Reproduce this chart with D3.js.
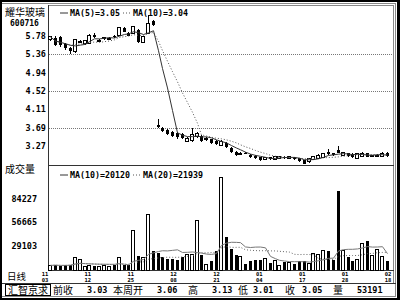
<!DOCTYPE html>
<html>
<head>
<meta charset="utf-8">
<script src="https://cdn.jsdelivr.net/npm/d3@7"></script>
<style>
  body { margin: 0; background: #fff; }
  svg { display: block; }
</style>
</head>
<body>
<svg width="400" height="300"></svg>
<script>
// stock + daily candles
const stockName = '耀华玻璃';
const stockCode = '600716';

const opens = [5.69, 5.74, 5.76, 5.60, 5.51, 5.43, 5.65, 5.60, 5.62, 5.80, 5.67, 5.73, 5.72, 5.78, 5.79, 5.96, 5.85, 5.84, 5.92, 5.64, 5.84, 6.12,
  3.75, 3.69, 3.63, 3.60, 3.56, 3.54, 3.37, 3.39, 3.48, 3.50, 3.41, 3.42, 3.39, 3.29, 3.33, 3.22, 3.14, 3.10, 3.11, 3.06, 3.04, 3.01, 2.96, 3.01,
  2.96, 2.99, 3.03, 2.99, 3.01, 2.99, 2.95, 2.91, 2.96, 2.99, 3.01, 3.14, 3.10, 3.18, 3.06, 3.10, 3.09, 2.99, 3.04, 3.10, 3.02, 3.03, 3.04, 3.10];
const highs = [5.79, 5.78, 5.78, 5.62, 5.53, 5.70, 5.69, 5.69, 5.82, 5.84, 5.71, 5.76, 5.76, 5.80, 5.99, 5.99, 5.88, 6.01, 5.94, 5.78, 6.26, 6.14,
  3.88, 3.71, 3.65, 3.62, 3.58, 3.56, 3.47, 3.67, 3.60, 3.52, 3.47, 3.44, 3.41, 3.40, 3.35, 3.24, 3.16, 3.13, 3.13, 3.08, 3.06, 3.03, 3.02, 3.03,
  3.04, 3.05, 3.05, 3.04, 3.03, 3.00, 2.96, 3.00, 3.05, 3.08, 3.11, 3.20, 3.12, 3.27, 3.14, 3.12, 3.10, 3.12, 3.13, 3.12, 3.07, 3.08, 3.13, 3.13];
const lows = [5.67, 5.55, 5.53, 5.47, 5.37, 5.39, 5.62, 5.58, 5.60, 5.74, 5.64, 5.70, 5.70, 5.74, 5.77, 5.86, 5.77, 5.82, 5.63, 5.62, 5.82, 6.00,
  3.69, 3.60, 3.52, 3.48, 3.42, 3.43, 3.35, 3.37, 3.46, 3.37, 3.39, 3.32, 3.29, 3.27, 3.22, 3.12, 3.04, 3.07, 3.08, 3.00, 2.97, 2.93, 2.94, 2.95,
  2.95, 2.97, 2.98, 2.97, 2.95, 2.91, 2.85, 2.89, 2.94, 2.97, 3.00, 3.07, 3.04, 3.10, 3.04, 3.03, 2.99, 2.97, 3.02, 3.01, 3.01, 3.01, 3.03, 3.01];
const closes = [5.76, 5.57, 5.58, 5.50, 5.43, 5.69, 5.66, 5.67, 5.80, 5.76, 5.68, 5.74, 5.73, 5.76, 5.97, 5.88, 5.79, 5.99, 5.65, 5.76, 6.07, 6.03,
  3.71, 3.62, 3.54, 3.50, 3.48, 3.45, 3.45, 3.54, 3.56, 3.39, 3.45, 3.34, 3.31, 3.37, 3.24, 3.14, 3.06, 3.11, 3.10, 3.02, 2.99, 2.95, 3.00, 2.97,
  3.02, 3.04, 3.00, 3.02, 2.97, 2.93, 2.87, 2.99, 3.04, 3.06, 3.09, 3.09, 3.06, 3.12, 3.12, 3.05, 3.01, 3.10, 3.11, 3.03, 3.05, 3.06, 3.11, 3.05];
const volumes = [5500, 6000, 5000, 5500, 6500, 14500, 13000, 4500, 5500, 5000, 4000, 5000, 4500, 5500, 15000, 6500, 5500, 46700, 17000, 15000, 66000, 23000,
  19700, 15000, 13000, 13000, 12000, 15000, 19000, 19000, 59000, 17700, 7000, 11000, 23000, 110600, 39000, 25000, 17700, 16000, 7600, 10900, 12000, 11700, 13600, 8400,
  11700, 5700, 9600, 8800, 6900, 10900, 10900, 7600, 20000, 18000, 23000, 23000, 12000, 94000, 23000, 15000, 11000, 12000, 31000, 35000, 17000, 24000, 15700, 11000];

// axis ticks and labels
const priceTicks = [5.78, 5.36, 4.94, 4.52, 4.11, 3.69, 3.27];
const priceGrid = [5.36, 4.52, 3.69];
const volumeTicks = [84227, 56665, 29103];
const dateLabels = [['11', '03'], ['11', '12'], ['11', '25'], ['12', '08'], ['12', '21'], ['01', '04'], ['01', '17'], ['01', '28'], ['02', '18']];

// legend texts
const priceLegend = ['MA(5)=3.05', 'MA(10)=3.04'];
const volumeLegend = ['MA(10)=20120', 'MA(20)=21939'];

// bottom status bar
const statusLabels = ['前收', '本周开', '高', '低', '收', '量'];
const statusValues = ['3.03', '3.06', '3.13', '3.01', '3.05', '53191'];

const mono = "'DejaVu Sans Mono', monospace";
const cjk = "'Noto Sans CJK SC', sans-serif";

const svg = d3.select('svg');

// scales
const x = d3.scaleBand().domain(d3.range(closes.length)).range([48, 389]);
const cx = i => Math.round(x(i) + x.bandwidth() / 2);
const y = d3.scaleLinear().domain([3.27, 5.78]).range([146, 36]);
const yv = d3.scaleLinear().domain([0, 84227]).range([270, 199.3]);
const xd = d3.scalePoint().domain(dateLabels.map(d => d.join('/'))).range([45, 388]);

function movingAvg(vals, n) {
  return vals.map((v, i) => d3.mean(vals.slice(Math.max(0, i - n + 1), i + 1)));
}

// frame
svg.append('rect').attr('x', 1).attr('y', 1).attr('width', 398).attr('height', 298)
  .attr('fill', 'none').attr('stroke', '#000').attr('stroke-width', 2);
svg.append('rect').attr('x', 397).attr('y', 0).attr('width', 3).attr('height', 300).attr('fill', '#000');
const frame = svg.append('g').attr('stroke', '#888').attr('shape-rendering', 'crispEdges');
frame.append('line').attr('x1', 2).attr('x2', 396).attr('y1', 3.5).attr('y2', 3.5);
frame.append('line').attr('x1', 48).attr('x2', 394).attr('y1', 5.5).attr('y2', 5.5);
frame.append('line').attr('x1', 393.5).attr('x2', 393.5).attr('y1', 5).attr('y2', 283);
frame.append('line').attr('x1', 395.5).attr('x2', 395.5).attr('y1', 3).attr('y2', 297);
frame.append('line').attr('x1', 2).attr('x2', 396).attr('y1', 296.5).attr('y2', 296.5);

const axes = svg.append('g').attr('stroke', '#333').attr('shape-rendering', 'crispEdges');
axes.append('line').attr('x1', 48.5).attr('x2', 48.5).attr('y1', 5).attr('y2', 271);
axes.append('line').attr('x1', 48).attr('x2', 394).attr('y1', 165.5).attr('y2', 165.5);
axes.append('line').attr('x1', 48).attr('x2', 394).attr('y1', 270.5).attr('y2', 270.5);
axes.append('line').attr('x1', 2).attr('x2', 396).attr('y1', 283.5).attr('y2', 283.5);

// dotted price grid
svg.append('g').selectAll('line').data(priceGrid).enter().append('line')
  .attr('x1', 49).attr('x2', 393)
  .attr('y1', d => Math.round(y(d)) + 0.5).attr('y2', d => Math.round(y(d)) + 0.5)
  .attr('stroke', '#777').attr('stroke-dasharray', '1,1');

// price axis labels
svg.append('g').selectAll('text').data(priceTicks).enter().append('text')
  .attr('x', 46).attr('y', d => y(d) + 3)
  .attr('text-anchor', 'end')
  .style('font-family', mono).style('font-weight', 'bold').style('font-size', '8.5px')
  .text(d => d3.format('.2f')(d));

// volume axis labels
svg.append('g').selectAll('text').data(volumeTicks).enter().append('text')
  .attr('x', 37).attr('y', d => yv(d) + 3)
  .attr('text-anchor', 'end')
  .style('font-family', mono).style('font-weight', 'bold').style('font-size', '8.5px')
  .text(d => d);

// stock name, code, panel titles
svg.append('text').attr('x', 5).attr('y', 15.5).style('font-family', cjk).style('font-size', '10px').text(stockName);
svg.append('text').attr('x', 10).attr('y', 26).style('font-family', mono).style('font-weight', 'bold').style('font-size', '8px').text(stockCode);
svg.append('text').attr('x', 5).attr('y', 173).style('font-family', cjk).style('font-size', '10px').text('成交量');
svg.append('text').attr('x', 7).attr('y', 280).style('font-family', cjk).style('font-size', '9.5px').text('日线');

// candles
const data = closes.map((c, i) => ({ i: i, o: opens[i], h: highs[i], l: lows[i], c: c, v: volumes[i], up: c >= opens[i] }));

const candles = svg.append('g').attr('shape-rendering', 'crispEdges');
candles.selectAll('line').data(data).enter().append('line')
  .attr('x1', d => cx(d.i) + 0.5).attr('x2', d => cx(d.i) + 0.5)
  .attr('y1', d => y(d.h)).attr('y2', d => y(d.l))
  .attr('stroke', '#000');
candles.selectAll('rect').data(data).enter().append('rect')
  .attr('x', d => d.up ? cx(d.i) - 1.5 : cx(d.i) - 1)
  .attr('width', 3)
  .attr('y', d => y(Math.max(d.o, d.c)))
  .attr('height', d => Math.max(1, Math.abs(y(d.o) - y(d.c))))
  .attr('fill', d => d.up ? '#fff' : '#000')
  .attr('stroke', d => d.up ? '#000' : 'none');

// price moving averages
const ma5 = movingAvg(closes, 5);
const ma10 = movingAvg(closes, 10);
const priceLine = d3.line().x((d, i) => cx(i) + 0.5).y(d => y(d));
svg.append('path').datum(ma10).attr('d', priceLine)
  .attr('fill', 'none').attr('stroke', '#555').attr('stroke-dasharray', '1,2');
svg.append('path').datum(ma5).attr('d', priceLine)
  .attr('fill', 'none').attr('stroke', '#333');

// volume bars
const vbars = svg.append('g').attr('shape-rendering', 'crispEdges');
vbars.selectAll('rect').data(data).enter().append('rect')
  .attr('x', d => d.up ? cx(d.i) - 1.5 : cx(d.i) - 1)
  .attr('width', 3)
  .attr('y', d => yv(d.v))
  .attr('height', d => yv(0) - yv(d.v))
  .attr('fill', d => d.up ? '#fff' : '#000')
  .attr('stroke', d => d.up ? '#000' : 'none');

// volume moving averages
const vma10 = movingAvg(volumes, 10);
const vma20 = movingAvg(volumes, 20);
const volLine = d3.line().x((d, i) => cx(i) + 0.5).y(d => yv(d));
svg.append('path').datum(vma20).attr('d', volLine)
  .attr('fill', 'none').attr('stroke', '#666').attr('stroke-dasharray', '1,2');
svg.append('path').datum(vma10).attr('d', volLine)
  .attr('fill', 'none').attr('stroke', '#777');

// legends: solid marker, first text, dotted marker, second text
function legend(yPos, texts) {
  const g = svg.append('g');
  const dotX = 70 + texts[0].length * 5 + 3;
  g.append('line').attr('x1', 60).attr('x2', 68).attr('y1', yPos).attr('y2', yPos).attr('stroke', '#333');
  g.append('line').attr('x1', dotX).attr('x2', dotX + 9).attr('y1', yPos).attr('y2', yPos)
    .attr('stroke', '#555').attr('stroke-dasharray', '1,2');
  g.selectAll('text').data(texts).enter().append('text')
    .attr('x', (d, i) => i === 0 ? 70 : dotX + 10)
    .attr('y', yPos + 3)
    .attr('textLength', d => d.length * 5)
    .attr('lengthAdjust', 'spacingAndGlyphs')
    .style('font-family', mono).style('font-weight', 'bold').style('font-size', '9px')
    .text(d => d);
}
legend(13, priceLegend);
legend(175, volumeLegend);

// date labels (two rows: month over day)
const dates = svg.append('g').selectAll('g').data(dateLabels).enter().append('g')
  .attr('transform', d => 'translate(' + xd(d.join('/')) + ',0)');
dates.append('text').attr('y', 276).text(d => d[0]);
dates.append('text').attr('y', 282).text(d => d[1]);
dates.selectAll('text')
  .attr('text-anchor', 'middle')
  .style('font-family', mono).style('font-weight', 'bold').style('font-size', '5.5px');

// status bar
svg.append('rect').attr('x', 5.5).attr('y', 284.5).attr('width', 45).attr('height', 11)
  .attr('fill', 'none').attr('stroke', '#000');
svg.append('text').attr('x', 8).attr('y', 294).style('font-family', cjk).style('font-size', '10px').text('汇智京求');
const labelX = [53, 113, 188, 238, 285, 333];
const valueX = [87, 157, 212, 253, 302, 357];
svg.append('g').selectAll('text').data(statusLabels).enter().append('text')
  .attr('x', (d, i) => labelX[i]).attr('y', 294)
  .style('font-family', cjk).style('font-size', '10px')
  .text(d => d);
svg.append('g').selectAll('text').data(statusValues).enter().append('text')
  .attr('x', (d, i) => valueX[i]).attr('y', 293)
  .style('font-family', mono).style('font-weight', 'bold').style('font-size', '8.5px')
  .text(d => d);
</script>
</body>
</html>
